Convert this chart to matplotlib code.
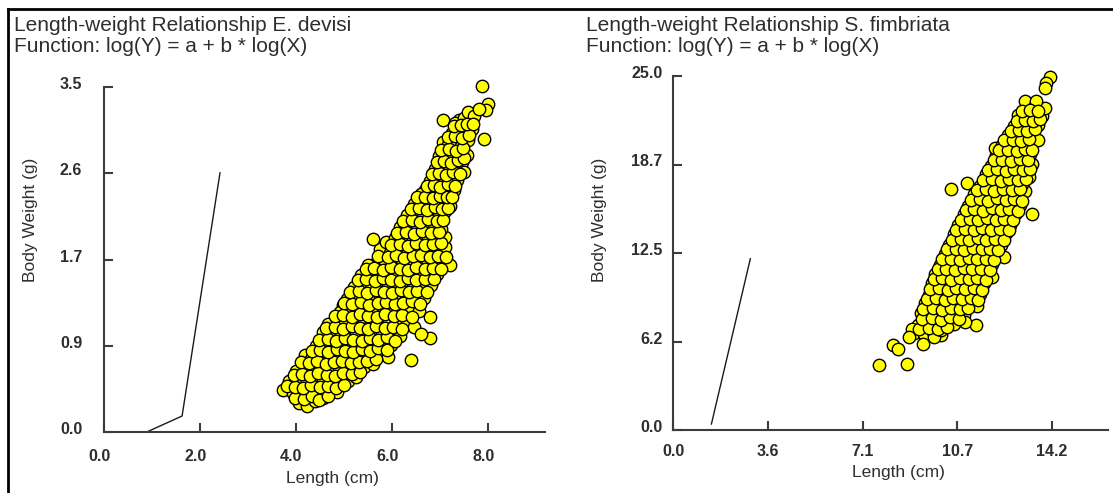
import matplotlib
matplotlib.use('Agg')
import matplotlib.pyplot as plt
import matplotlib.transforms as mtransforms
from matplotlib.lines import Line2D

plt.rcParams['font.family'] = ['Liberation Sans', 'DejaVu Sans']

# E. devisi (length cm, weight g)
devisi_points = [
    (4.05, 0.30), (4.22, 0.27), (4.38, 0.32), (4.55, 0.35),
    (3.72, 0.43), (3.93, 0.40), (4.10, 0.38), (4.30, 0.42), (4.48, 0.39), (4.66, 0.44), (4.84, 0.41),
    (3.85, 0.52), (4.02, 0.50), (4.20, 0.55), (4.37, 0.51), (4.55, 0.53), (4.73, 0.49), (4.90, 0.55),
    (5.08, 0.52), (5.25, 0.56),
    (4.00, 0.62), (4.18, 0.66), (4.35, 0.63), (4.52, 0.67), (4.70, 0.62), (4.88, 0.65), (5.05, 0.68),
    (5.22, 0.63), (5.40, 0.66), (5.60, 0.69),
    (4.19, 0.78), (4.30, 0.74), (4.48, 0.77), (4.65, 0.73), (4.83, 0.78), (5.00, 0.75), (5.18, 0.79),
    (5.35, 0.74), (5.53, 0.77), (5.72, 0.80), (5.90, 0.76),
    (4.40, 0.87), (4.58, 0.90), (4.75, 0.86), (4.93, 0.91), (5.10, 0.88), (5.28, 0.85), (5.45, 0.90),
    (5.63, 0.87), (5.80, 0.92), (5.98, 0.88),
    (4.55, 1.02), (4.72, 0.98), (4.90, 1.03), (5.08, 0.99), (5.25, 1.02), (5.43, 0.97), (5.60, 1.04),
    (5.78, 1.00), (5.95, 1.03), (6.15, 0.98),
    (4.67, 1.10), (4.85, 1.14), (5.02, 1.11), (5.20, 1.15), (5.38, 1.09), (5.55, 1.13), (5.73, 1.16),
    (5.90, 1.10), (6.08, 1.14), (6.30, 1.12),
    (4.97, 1.29), (4.92, 1.22), (5.10, 1.25), (5.28, 1.21), (5.45, 1.26), (5.62, 1.23), (5.80, 1.27),
    (5.98, 1.22), (6.15, 1.25), (6.35, 1.28), (6.55, 1.23),
    (5.05, 1.35), (5.22, 1.38), (5.40, 1.34), (5.58, 1.39), (5.75, 1.36), (5.92, 1.33), (6.10, 1.38),
    (6.28, 1.35), (6.45, 1.39), (6.65, 1.36),
    (5.20, 1.47), (5.38, 1.50), (5.55, 1.46), (5.72, 1.51), (5.90, 1.48), (6.08, 1.45), (6.25, 1.50),
    (6.42, 1.47), (6.60, 1.52), (6.80, 1.49),
    (5.35, 1.59), (5.52, 1.62), (5.70, 1.58), (5.88, 1.63), (6.05, 1.60), (6.22, 1.57), (6.40, 1.62),
    (6.58, 1.59), (6.75, 1.63), (6.92, 1.60),
    (5.66, 1.72), (5.50, 1.70), (5.85, 1.74), (6.02, 1.71), (6.20, 1.75), (6.38, 1.69), (6.55, 1.73),
    (6.72, 1.76), (6.90, 1.71), (7.20, 1.70),
    (5.75, 1.86), (5.60, 1.96), (5.86, 1.93), (5.95, 1.82), (6.12, 1.85), (6.30, 1.81), (6.48, 1.87),
    (6.65, 1.83), (6.82, 1.86), (7.00, 1.84), (7.09, 1.88),
    (6.05, 1.97), (6.22, 1.94), (6.40, 1.99), (6.57, 1.95), (6.75, 1.98), (6.92, 2.00), (7.09, 1.98),
    (6.15, 2.08), (6.27, 2.11), (6.35, 2.06), (6.52, 2.10), (6.70, 2.07), (6.87, 2.11), (7.02, 2.06),
    (6.30, 2.20), (6.47, 2.23), (6.63, 2.18), (6.80, 2.22), (6.97, 2.19), (7.10, 2.24),
    (6.45, 2.31), (6.60, 2.34), (6.76, 2.30), (6.93, 2.35), (7.08, 2.32), (7.20, 2.29),
    (6.68, 2.46), (6.76, 2.44), (6.60, 2.42), (6.90, 2.41), (7.05, 2.46), (7.18, 2.43), (7.28, 2.46),
    (6.78, 2.55), (6.93, 2.58), (7.08, 2.54), (7.22, 2.59), (7.35, 2.56),
    (6.88, 2.67), (7.03, 2.70), (7.17, 2.66), (7.30, 2.71), (7.46, 2.74), (7.50, 2.64),
    (6.98, 2.80), (7.12, 2.83), (7.26, 2.79), (7.40, 2.84), (7.55, 2.81),
    (7.05, 2.94), (7.15, 2.91), (7.30, 2.95), (7.44, 2.90), (7.58, 2.96), (7.91, 2.97),
    (7.25, 3.03), (7.40, 3.06), (7.52, 3.02), (7.65, 3.07),
    (7.05, 3.17), (7.39, 3.17), (7.30, 3.14), (7.50, 3.19), (7.58, 3.25), (7.70, 3.21),
    (7.87, 3.51), (7.99, 3.33), (7.95, 3.27), (7.80, 3.28),
    (6.38, 0.73), (6.79, 0.96), (6.46, 1.07), (6.79, 1.17), (6.60, 1.00),
    # fish lying between the rows above
    (3.98, 0.35), (4.15, 0.34), (4.32, 0.37), (4.48, 0.33), (4.65, 0.37),
    (3.80, 0.47), (3.97, 0.46), (4.14, 0.45), (4.31, 0.48), (4.49, 0.46), (4.66, 0.47), (4.82, 0.45),
    (5.00, 0.48),
    (3.95, 0.58), (4.12, 0.59), (4.29, 0.57), (4.46, 0.60), (4.63, 0.58), (4.81, 0.57), (4.98, 0.60),
    (5.15, 0.59), (5.33, 0.61),
    (4.10, 0.71), (4.27, 0.70), (4.44, 0.72), (4.61, 0.69), (4.79, 0.71), (4.96, 0.72), (5.13, 0.70),
    (5.30, 0.71), (5.48, 0.72), (5.66, 0.74),
    (4.32, 0.82), (4.49, 0.83), (4.67, 0.81), (4.84, 0.84), (5.02, 0.82), (5.19, 0.81), (5.37, 0.84),
    (5.54, 0.82), (5.71, 0.85), (5.88, 0.83),
    (4.48, 0.94), (4.66, 0.95), (4.83, 0.93), (5.01, 0.96), (5.18, 0.94), (5.36, 0.93), (5.53, 0.96),
    (5.71, 0.94), (5.88, 0.97), (6.05, 0.93),
    (4.62, 1.06), (4.80, 1.07), (4.97, 1.05), (5.15, 1.08), (5.32, 1.06), (5.50, 1.05), (5.67, 1.08),
    (5.85, 1.06), (6.02, 1.07), (6.20, 1.05),
    (4.80, 1.18), (4.98, 1.19), (5.15, 1.17), (5.33, 1.20), (5.50, 1.18), (5.68, 1.17), (5.85, 1.20),
    (6.03, 1.18), (6.20, 1.19), (6.40, 1.17),
    (5.00, 1.31), (5.17, 1.30), (5.35, 1.32), (5.52, 1.29), (5.70, 1.31), (5.87, 1.32), (6.05, 1.30),
    (6.22, 1.31), (6.40, 1.33), (6.58, 1.30),
    (5.12, 1.42), (5.30, 1.43), (5.47, 1.41), (5.65, 1.44), (5.82, 1.42), (6.00, 1.41), (6.17, 1.44),
    (6.35, 1.42), (6.52, 1.43), (6.72, 1.42),
    (5.28, 1.54), (5.45, 1.55), (5.63, 1.53), (5.80, 1.56), (5.98, 1.54), (6.15, 1.53), (6.33, 1.56),
    (6.50, 1.54), (6.68, 1.55), (6.86, 1.55),
    (5.45, 1.66), (5.62, 1.67), (5.80, 1.65), (5.97, 1.68), (6.15, 1.66), (6.32, 1.65), (6.50, 1.68),
    (6.67, 1.66), (6.85, 1.67), (7.02, 1.66),
    (5.70, 1.79), (5.90, 1.78), (6.08, 1.80), (6.25, 1.77), (6.43, 1.79), (6.60, 1.80), (6.78, 1.78),
    (6.95, 1.79), (7.12, 1.78),
    (5.98, 1.90), (6.15, 1.91), (6.33, 1.89), (6.50, 1.92), (6.68, 1.90), (6.85, 1.91), (7.02, 1.92),
    (6.10, 2.02), (6.28, 2.03), (6.45, 2.01), (6.62, 2.04), (6.80, 2.02), (6.97, 2.03),
    (6.22, 2.14), (6.40, 2.15), (6.57, 2.13), (6.74, 2.16), (6.92, 2.14), (7.06, 2.15),
    (6.38, 2.26), (6.55, 2.27), (6.72, 2.25), (6.88, 2.28), (7.04, 2.26), (7.15, 2.27),
    (6.52, 2.38), (6.68, 2.39), (6.84, 2.37), (7.00, 2.40), (7.14, 2.38), (7.25, 2.39),
    (6.72, 2.50), (6.86, 2.51), (7.00, 2.49), (7.15, 2.52), (7.30, 2.50),
    (6.83, 2.62), (6.98, 2.63), (7.12, 2.61), (7.27, 2.64), (7.40, 2.62),
    (6.94, 2.74), (7.08, 2.75), (7.22, 2.73), (7.36, 2.76), (7.50, 2.78),
    (7.02, 2.86), (7.18, 2.87), (7.32, 2.85), (7.47, 2.88),
    (7.15, 2.99), (7.30, 3.00), (7.45, 2.98), (7.60, 3.01),
    (7.28, 3.10), (7.42, 3.11), (7.56, 3.12), (7.68, 3.13),
]
devisi_length = [p[0] for p in devisi_points]
devisi_weight = [p[1] for p in devisi_points]

# S. fimbriata
fimbriata_points = [
    (9.05, 6.85), (9.40, 6.75), (9.75, 6.90), (10.05, 6.70),
    (9.20, 7.45), (9.55, 7.60), (9.88, 7.40), (10.25, 7.55), (10.55, 7.50),
    (9.30, 8.25), (9.62, 8.10), (9.95, 8.30), (10.30, 8.15), (10.62, 8.35), (10.90, 8.10),
    (9.45, 8.95), (9.78, 8.80), (10.10, 9.00), (10.45, 8.85), (10.78, 9.05), (11.10, 8.90), (11.40, 8.75),
    (9.58, 9.55), (9.90, 9.70), (10.22, 9.50), (10.55, 9.65), (10.88, 9.55), (11.20, 9.70), (11.50, 9.60),
    (9.70, 10.35), (10.02, 10.20), (10.35, 10.40), (10.68, 10.25), (11.00, 10.35), (11.32, 10.20),
    (11.65, 10.40),
    (9.82, 11.05), (10.15, 10.90), (10.48, 11.10), (10.80, 10.95), (11.12, 11.05), (11.45, 10.90),
    (11.78, 11.10),
    (10.00, 11.65), (10.32, 11.80), (10.65, 11.60), (10.98, 11.75), (11.30, 11.65), (11.62, 11.80),
    (11.95, 11.70),
    (10.18, 12.45), (10.50, 12.30), (10.82, 12.50), (11.15, 12.35), (11.48, 12.45), (11.80, 12.30),
    (12.10, 12.50),
    (10.35, 13.05), (10.68, 13.20), (11.00, 13.00), (11.32, 13.15), (11.65, 13.05), (11.98, 13.20),
    (12.30, 13.10),
    (10.52, 13.85), (10.85, 13.70), (11.18, 13.90), (11.50, 13.75), (11.82, 13.85), (12.15, 13.70),
    (12.50, 13.90),
    (10.70, 14.45), (11.02, 14.60), (11.35, 14.40), (11.68, 14.55), (12.00, 14.45), (12.32, 14.60),
    (12.65, 14.50),
    (10.90, 15.25), (11.22, 15.10), (11.55, 15.30), (11.88, 15.15), (12.20, 15.25), (12.52, 15.10),
    (12.85, 15.30),
    (11.05, 15.85), (11.38, 16.00), (11.70, 15.80), (12.02, 15.95), (12.35, 15.85), (12.68, 16.00),
    (13.00, 15.90),
    (11.28, 16.65), (11.60, 16.50), (11.92, 16.70), (12.25, 16.55), (12.58, 16.65), (12.90, 16.50),
    (13.21, 16.90),
    (11.50, 17.25), (11.82, 17.40), (12.15, 17.20), (12.48, 17.35), (12.80, 17.25), (13.10, 17.40),
    (11.72, 18.05), (12.05, 17.90), (12.38, 18.10), (12.70, 17.95), (13.02, 18.05), (13.34, 17.84),
    (11.92, 18.65), (12.25, 18.80), (12.58, 18.60), (12.90, 18.75), (13.20, 18.65), (13.47, 18.78),
    (12.12, 19.45), (12.45, 19.30), (12.78, 19.50), (13.10, 19.35), (13.40, 19.50),
    (12.08, 19.95), (12.35, 20.15), (12.68, 20.00), (13.00, 20.20), (13.30, 20.05),
    (12.55, 20.85), (12.88, 20.70), (13.18, 20.90), (13.48, 20.75), (13.67, 20.50),
    (12.80, 21.45), (13.10, 21.60), (13.40, 21.45), (13.70, 21.55),
    (12.95, 22.25), (13.25, 22.10), (13.55, 22.30), (13.85, 22.15),
    (13.21, 23.24), (13.54, 22.80), (13.94, 22.77), (13.60, 23.20),
    (14.13, 24.93), (14.00, 24.50), (13.94, 24.13),
    (7.72, 4.58), (8.77, 4.69), (8.25, 5.99), (8.44, 5.75), (8.97, 7.16), (8.84, 6.57), (9.37, 6.10),
    (9.77, 6.57), (10.03, 7.04), (9.50, 8.69), (9.63, 9.15), (10.43, 17.02), (11.02, 17.42),
    (11.36, 7.39), (10.96, 7.63), (13.47, 15.26), (12.41, 12.25), (11.49, 10.85), (11.95, 10.80),
    # fish lying between the rows above
    (9.22, 7.15), (9.58, 7.20), (9.92, 7.10), (10.28, 7.25),
    (9.35, 7.85), (9.70, 7.90), (10.05, 7.80), (10.40, 7.95), (10.72, 7.85),
    (9.38, 8.55), (9.75, 8.60), (10.08, 8.50), (10.42, 8.65), (10.76, 8.55), (11.05, 8.60),
    (9.52, 9.25), (9.85, 9.30), (10.18, 9.20), (10.50, 9.35), (10.84, 9.25), (11.16, 9.30), (11.45, 9.20),
    (9.65, 9.95), (9.98, 10.00), (10.30, 9.90), (10.62, 10.05), (10.95, 9.95), (11.28, 10.00),
    (11.58, 9.90),
    (9.78, 10.65), (10.10, 10.70), (10.42, 10.60), (10.75, 10.75), (11.08, 10.65), (11.40, 10.70),
    (11.72, 10.60),
    (9.92, 11.35), (10.25, 11.40), (10.58, 11.30), (10.90, 11.45), (11.22, 11.35), (11.55, 11.40),
    (11.88, 11.30),
    (10.10, 12.05), (10.42, 12.10), (10.75, 12.00), (11.08, 12.15), (11.40, 12.05), (11.72, 12.10),
    (12.02, 12.00),
    (10.28, 12.75), (10.60, 12.80), (10.92, 12.70), (11.25, 12.85), (11.58, 12.75), (11.90, 12.80),
    (12.20, 12.70),
    (10.45, 13.45), (10.78, 13.50), (11.10, 13.40), (11.42, 13.55), (11.75, 13.45), (12.08, 13.50),
    (12.40, 13.40),
    (10.62, 14.15), (10.95, 14.20), (11.28, 14.10), (11.60, 14.25), (11.92, 14.15), (12.25, 14.20),
    (12.58, 14.10),
    (10.80, 14.85), (11.12, 14.90), (11.45, 14.80), (11.78, 14.95), (12.10, 14.85), (12.42, 14.90),
    (12.75, 14.80),
    (10.98, 15.55), (11.30, 15.60), (11.62, 15.50), (11.95, 15.65), (12.28, 15.55), (12.60, 15.60),
    (12.92, 15.50),
    (11.18, 16.25), (11.50, 16.30), (11.82, 16.20), (12.15, 16.35), (12.48, 16.25), (12.80, 16.30),
    (13.10, 16.20),
    (11.40, 16.95), (11.72, 17.00), (12.05, 16.90), (12.38, 17.05), (12.70, 16.95), (13.00, 17.00),
    (11.62, 17.65), (11.95, 17.70), (12.28, 17.60), (12.60, 17.75), (12.92, 17.65), (13.22, 17.70),
    (11.82, 18.35), (12.15, 18.40), (12.48, 18.30), (12.80, 18.45), (13.12, 18.35), (13.40, 18.40),
    (12.02, 19.05), (12.35, 19.10), (12.68, 19.00), (13.00, 19.15), (13.30, 19.05),
    (12.22, 19.75), (12.55, 19.80), (12.88, 19.70), (13.18, 19.85), (13.45, 19.75),
    (12.42, 20.45), (12.75, 20.50), (13.05, 20.40), (13.35, 20.55),
    (12.68, 21.15), (12.98, 21.20), (13.28, 21.10), (13.58, 21.25),
    (12.88, 21.85), (13.18, 21.90), (13.48, 21.80), (13.75, 21.95),
    (13.10, 22.55), (13.40, 22.60), (13.70, 22.50),
]
fimbriata_length = [p[0] for p in fimbriata_points]
fimbriata_weight = [p[1] for p in fimbriata_points]

# fitted curves as drawn
devisi_fit_x = [0.87, 1.62, 2.41]
devisi_fit_y = [0.0, 0.165, 2.63]
fimbriata_fit_x = [1.43, 2.89]
fimbriata_fit_y = [0.42, 12.09]

# ticks and labels
devisi_xticks = [0, 2, 4, 6, 8]
devisi_xlabels = ['0.0', '2.0', '4.0', '6.0', '8.0']
devisi_yticks = [0, 0.875, 1.75, 2.625, 3.5]
devisi_ylabels = ['0.0', '0.9', '1.7', '2.6', '3.5']
fimbriata_xticks = [0, 3.55, 7.1, 10.65, 14.2]
fimbriata_xlabels = ['0.0', '3.6', '7.1', '10.7', '14.2']
fimbriata_yticks = [0, 6.25, 12.5, 18.75, 25]
fimbriata_ylabels = ['0.0', '6.2', '12.5', '18.7', '25.0']

W, H = 1113, 493
fig = plt.figure(figsize=(W / 100, H / 100), dpi=100)
fig.patch.set_facecolor('white')


def rect(left, top, right, bottom):
    return [left / W, 1 - bottom / H, (right - left) / W, (bottom - top) / H]


def fx(px):
    return px / W


def fy(py):
    return 1 - py / H


text_col = '#2e2e2e'
axis_col = '#3c3c3c'


def setup_axes(ax, xlim, ylim, xticks, xlabels, yticks, ylabels, ypad, xpad, xshift):
    ax.set_xlim(*xlim)
    ax.set_ylim(*ylim)
    for s in ['top', 'right']:
        ax.spines[s].set_visible(False)
    for s in ['left', 'bottom']:
        ax.spines[s].set_color(axis_col)
        ax.spines[s].set_linewidth(1.5)
    ax.set_xticks(xticks)
    ax.set_xticklabels(xlabels, fontsize=11.5, fontweight='bold', color=text_col)
    ax.set_yticks(yticks)
    ax.set_yticklabels(ylabels, fontsize=11.5, fontweight='bold', color=text_col)
    ax.tick_params(axis='both', direction='in', length=6.5, width=1.5, color=axis_col)
    ax.tick_params(axis='y', pad=ypad)
    ax.tick_params(axis='x', pad=xpad)
    up = mtransforms.ScaledTranslation(0, 0.04, fig.dpi_scale_trans)
    for lab in ax.get_yticklabels():
        lab.set_transform(lab.get_transform() + up)
    left = mtransforms.ScaledTranslation(xshift, 0, fig.dpi_scale_trans)
    for lab in ax.get_xticklabels():
        lab.set_transform(lab.get_transform() + left)


# left panel
ax1 = fig.add_axes(rect(104.3, 87, 545, 432.3))
ax1.plot(devisi_fit_x, devisi_fit_y, color='#1a1a1a', lw=1.0)
ax1.scatter(devisi_length, devisi_weight, s=80, c='#ffff00', edgecolors='black',
            linewidths=1.0, clip_on=False, zorder=3)
setup_axes(ax1, (0, 9.18), (0, 3.5), devisi_xticks, devisi_xlabels,
           devisi_yticks, devisi_ylabels, 15.8, 12.3, -0.05)

# right panel
ax2 = fig.add_axes(rect(673.3, 76, 1107.7, 430))
ax2.plot(fimbriata_fit_x, fimbriata_fit_y, color='#1a1a1a', lw=1.0)
ax2.scatter(fimbriata_length, fimbriata_weight, s=80, c='#ffff00', edgecolors='black',
            linewidths=1.0, clip_on=False, zorder=3)
setup_axes(ax2, (0, 16.3), (0, 25), fimbriata_xticks, fimbriata_xlabels,
           fimbriata_yticks, fimbriata_ylabels, 7.6, 10.3, 0.0)

# titles
fig.text(fx(14), fy(31), 'Length-weight Relationship E. devisi', fontsize=15,
         color=text_col, va='baseline', ha='left')
fig.text(fx(14), fy(52), 'Function: log(Y) = a + b * log(X)', fontsize=15,
         color=text_col, va='baseline', ha='left')
fig.text(fx(586), fy(31), 'Length-weight Relationship S. fimbriata', fontsize=15,
         color=text_col, va='baseline', ha='left')
fig.text(fx(586), fy(52), 'Function: log(Y) = a + b * log(X)', fontsize=15,
         color=text_col, va='baseline', ha='left')

# axis labels
fig.text(fx(30), fy(220), 'Body Weight (g)', fontsize=12.5, color=text_col,
         rotation=90, ha='center', va='center')
fig.text(fx(599), fy(220), 'Body Weight (g)', fontsize=12.5, color=text_col,
         rotation=90, ha='center', va='center')
fig.text(fx(332), fy(478), 'Length (cm)', fontsize=12.5, color=text_col,
         ha='center', va='center')
fig.text(fx(898), fy(472), 'Length (cm)', fontsize=12.5, color=text_col,
         ha='center', va='center')

# screenshot frame lines
fig.add_artist(Line2D([fx(8), 1], [fy(8.5), fy(8.5)], transform=fig.transFigure,
                      color='black', lw=2.0))
fig.add_artist(Line2D([fx(8), fx(8)], [fy(8.5), 0], transform=fig.transFigure,
                      color='black', lw=2.0))

fig.savefig('out.png', dpi=100)
